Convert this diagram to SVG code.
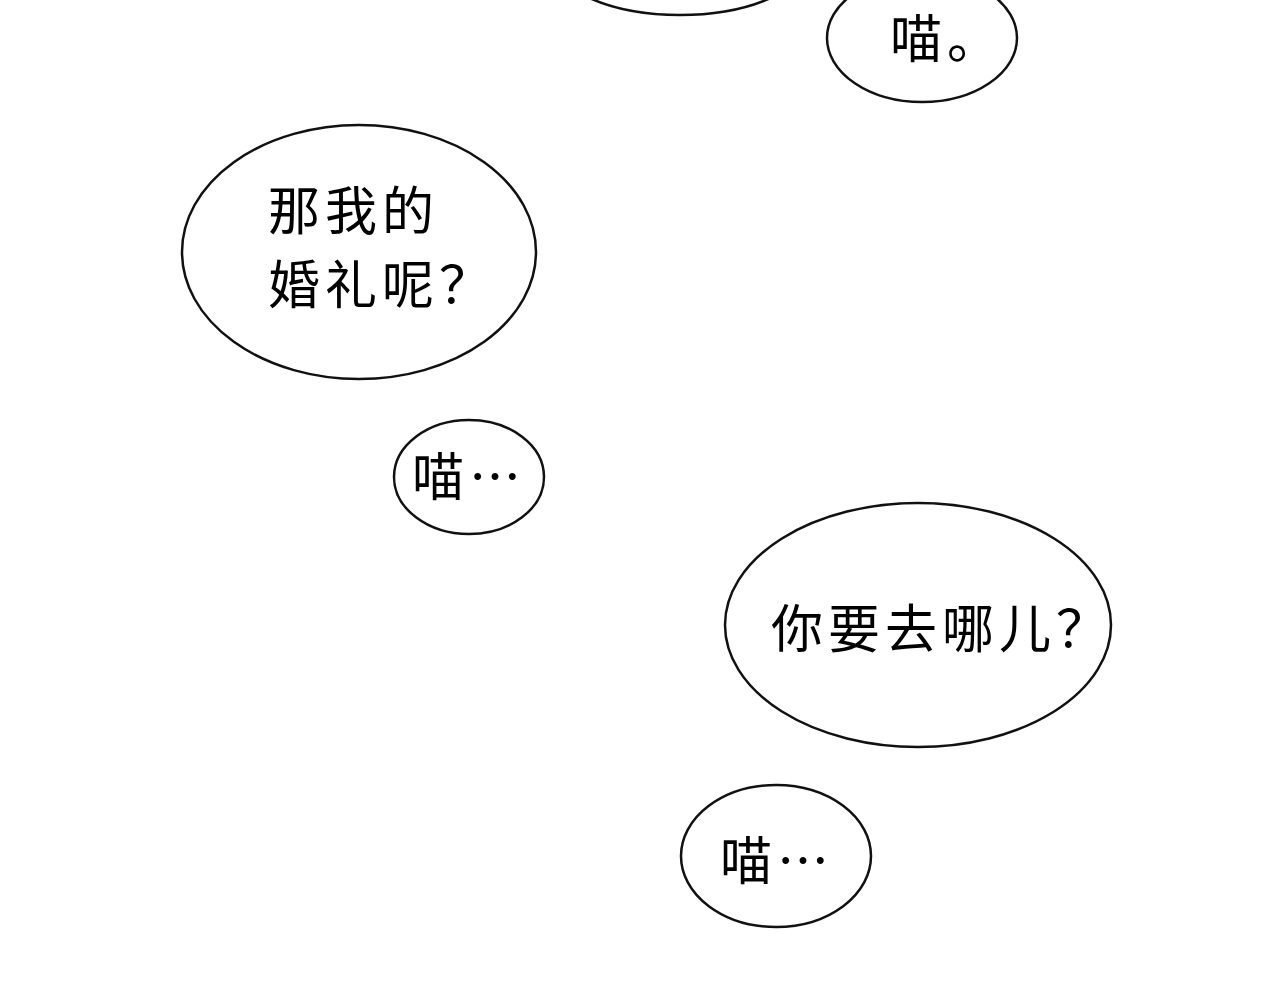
<svg xmlns="http://www.w3.org/2000/svg" width="1280" height="1000" viewBox="0 0 1280 1000">
<style>
.b{fill:#fff;stroke:#111;stroke-width:2.5}
.t{font-family:"Noto Sans CJK SC","Noto Sans",sans-serif;fill:#000;font-size:52px;letter-spacing:5px}
</style>
<rect width="1280" height="1000" fill="#fff"/>
<g id="bubble0"><ellipse class="b" cx="680" cy="-45" rx="130" ry="60"/></g>
<g id="bubble1"><ellipse class="b" cx="922" cy="38" rx="95" ry="64"/><text class="t" x="890" y="58" font-size="44">喵。</text></g>
<g id="bubble2"><ellipse class="b" cx="359" cy="252" rx="177" ry="127"/><text class="t" x="268" y="230">那我的</text><text class="t" x="268" y="304">婚礼呢？</text></g>
<g id="bubble3"><ellipse class="b" cx="469" cy="477" rx="75" ry="57"/><text class="t" x="412" y="496" letter-spacing="2">喵…</text></g>
<g id="bubble4"><ellipse class="b" cx="918" cy="625" rx="193" ry="122"/><text class="t" x="771" y="648">你要去哪儿？</text></g>
<g id="bubble5"><ellipse class="b" cx="776" cy="856" rx="95" ry="71"/><text class="t" x="720" y="880" letter-spacing="2">喵…</text></g>
<g id="connectors"/>
</svg>
